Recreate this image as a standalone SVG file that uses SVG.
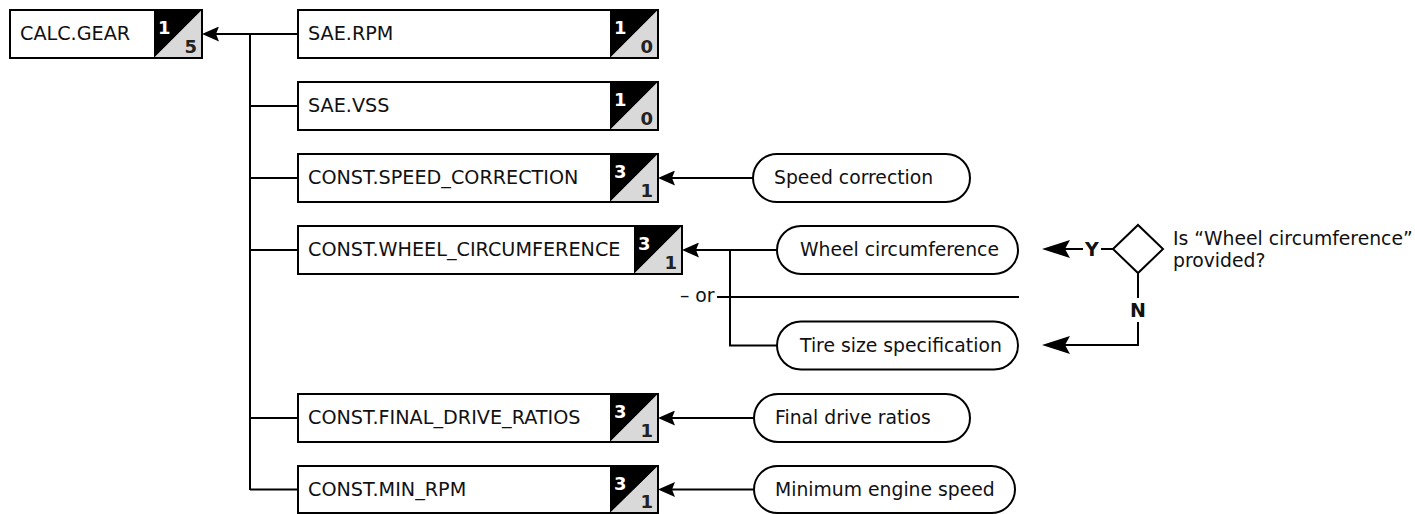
<svg xmlns="http://www.w3.org/2000/svg" width="1415" height="514" viewBox="0 0 1415 514">
<style>
.bg{fill:#fff;stroke:none}
.box{fill:#fff;stroke:none}
.outl{fill:none;stroke:#000;stroke-width:2}
.blk{fill:#000}
.gry{fill:#d9d9d9}
.pill{fill:#fff;stroke:#000;stroke-width:2}
.dia{fill:#fff;stroke:#000;stroke-width:2;stroke-linejoin:miter}
.lbl{font-family:"DejaVu Sans","Liberation Sans",sans-serif;font-size:18.8px;fill:#111}
.bl{font-size:19.2px}
.dt{font-family:"DejaVu Sans","Liberation Sans",sans-serif;font-size:18px;font-weight:bold;fill:#fff}
.db{font-family:"DejaVu Sans","Liberation Sans",sans-serif;font-size:18px;font-weight:bold;fill:#222;text-anchor:end}
.yn{font-family:"DejaVu Sans","Liberation Sans",sans-serif;font-size:19px;font-weight:bold;fill:#111;text-anchor:middle}
.ln{fill:none;stroke:#000;stroke-width:2}
</style>
<defs>
<marker id="ah" viewBox="0 0 17 15" refX="14" refY="7.5" markerWidth="17" markerHeight="15" markerUnits="userSpaceOnUse" orient="auto"><path d="M0,0 L17,7.5 L0,15 L3,7.5 Z" fill="#000"/></marker>
<marker id="ahb" viewBox="0 0 28 18" refX="25" refY="9" markerWidth="28" markerHeight="18" markerUnits="userSpaceOnUse" orient="auto"><path d="M0,0 L28,9 L0,18 L5,9 Z" fill="#000"/></marker>
</defs>
<rect class="bg" x="0" y="0" width="1415" height="514"/>

<g id="connectors">
<path class="ln" d="M298,34 H205" marker-end="url(#ah)"/>
<path class="ln" d="M250,34 V490"/>
<path class="ln" d="M250,106 H298"/>
<path class="ln" d="M250,178 H298"/>
<path class="ln" d="M250,250 H298"/>
<path class="ln" d="M250,418 H298"/>
<path class="ln" d="M250,489.5 H298"/>
<path class="ln" d="M753,178 H661" marker-end="url(#ah)"/>
<path class="ln" d="M777,250 H685" marker-end="url(#ah)"/>
<path class="ln" d="M730,250 V345.5 H777"/>
<path class="ln" d="M717,297 H1019"/>
<path class="ln" d="M754,418 H661" marker-end="url(#ah)"/>
<path class="ln" d="M754,489.5 H661" marker-end="url(#ah)"/>
<path class="ln" d="M1113,249 H1101"/>
<path class="ln" d="M1083,249 H1045" marker-end="url(#ahb)"/>
<path class="ln" d="M1138,273 V298"/>
<path class="ln" d="M1138,322 V345 H1045" marker-end="url(#ahb)"/>
<text class="lbl" x="680" y="302">– or</text>
<text class="yn" x="1092" y="256">Y</text>
<text class="yn" x="1138" y="317">N</text>
</g>

<g id="calc_gear">
<rect class="box" x="10" y="10" width="192" height="48"/>
<path class="blk" d="M154,10 H202 L154,58 Z"/>
<path class="gry" d="M202,10 V58 H154 Z"/>
<rect class="outl" x="10" y="10" width="192" height="48"/>
<text class="lbl bl" x="20" y="40">CALC.GEAR</text>
<text class="dt" x="158" y="34">1</text>
<text class="db" x="197" y="53">5</text>
</g>

<g id="sae_rpm">
<rect class="box" x="298" y="10" width="360" height="48"/>
<path class="blk" d="M610,10 H658 L610,58 Z"/>
<path class="gry" d="M658,10 V58 H610 Z"/>
<rect class="outl" x="298" y="10" width="360" height="48"/>
<text class="lbl bl" x="308" y="40">SAE.RPM</text>
<text class="dt" x="614" y="34">1</text>
<text class="db" x="653" y="53">0</text>
</g>

<g id="sae_vss">
<rect class="box" x="298" y="82" width="360" height="48"/>
<path class="blk" d="M610,82 H658 L610,130 Z"/>
<path class="gry" d="M658,82 V130 H610 Z"/>
<rect class="outl" x="298" y="82" width="360" height="48"/>
<text class="lbl bl" x="308" y="112">SAE.VSS</text>
<text class="dt" x="614" y="106">1</text>
<text class="db" x="653" y="125">0</text>
</g>

<g id="const_speed_correction">
<rect class="box" x="298" y="154" width="360" height="48"/>
<path class="blk" d="M610,154 H658 L610,202 Z"/>
<path class="gry" d="M658,154 V202 H610 Z"/>
<rect class="outl" x="298" y="154" width="360" height="48"/>
<text class="lbl bl" x="308" y="184">CONST.SPEED_CORRECTION</text>
<text class="dt" x="614" y="178">3</text>
<text class="db" x="653" y="197">1</text>
</g>

<g id="const_wheel_circumference">
<rect class="box" x="298" y="226" width="384" height="48"/>
<path class="blk" d="M634,226 H682 L634,274 Z"/>
<path class="gry" d="M682,226 V274 H634 Z"/>
<rect class="outl" x="298" y="226" width="384" height="48"/>
<text class="lbl bl" x="308" y="256">CONST.WHEEL_CIRCUMFERENCE</text>
<text class="dt" x="638" y="250">3</text>
<text class="db" x="677" y="269">1</text>
</g>

<g id="const_final_drive_ratios">
<rect class="box" x="298" y="394" width="360" height="48"/>
<path class="blk" d="M610,394 H658 L610,442 Z"/>
<path class="gry" d="M658,394 V442 H610 Z"/>
<rect class="outl" x="298" y="394" width="360" height="48"/>
<text class="lbl bl" x="308" y="424">CONST.FINAL_DRIVE_RATIOS</text>
<text class="dt" x="614" y="418">3</text>
<text class="db" x="653" y="437">1</text>
</g>

<g id="const_min_rpm">
<rect class="box" x="298" y="466" width="360" height="47"/>
<path class="blk" d="M610,466 H658 L610,513 Z"/>
<path class="gry" d="M658,466 V513 H610 Z"/>
<rect class="outl" x="298" y="466" width="360" height="47"/>
<text class="lbl bl" x="308" y="496">CONST.MIN_RPM</text>
<text class="dt" x="614" y="490">3</text>
<text class="db" x="653" y="508">1</text>
</g>

<g id="speed_correction">
<rect class="pill" x="753" y="154" width="217" height="48" rx="24"/>
<text class="lbl" x="774" y="184">Speed correction</text>
</g>

<g id="wheel_circumference">
<rect class="pill" x="777" y="226" width="241" height="48" rx="24"/>
<text class="lbl" x="800" y="256">Wheel circumference</text>
</g>

<g id="tire_size_specification">
<rect class="pill" x="777" y="321.5" width="241" height="48" rx="24"/>
<text class="lbl" x="800" y="351.5">Tire size specification</text>
</g>

<g id="final_drive_ratios">
<rect class="pill" x="754" y="394" width="216" height="48" rx="24"/>
<text class="lbl" x="775" y="424">Final drive ratios</text>
</g>

<g id="minimum_engine_speed">
<rect class="pill" x="754" y="466" width="261" height="47" rx="23.5"/>
<text class="lbl" x="775" y="496">Minimum engine speed</text>
</g>

<g id="decision">
<polygon class="dia" points="1113,249 1138,225 1163,249 1138,273"/>
<text class="lbl" x="1173" y="245">Is “Wheel circumference”</text>
<text class="lbl" x="1173" y="267">provided?</text>
</g>
</svg>
